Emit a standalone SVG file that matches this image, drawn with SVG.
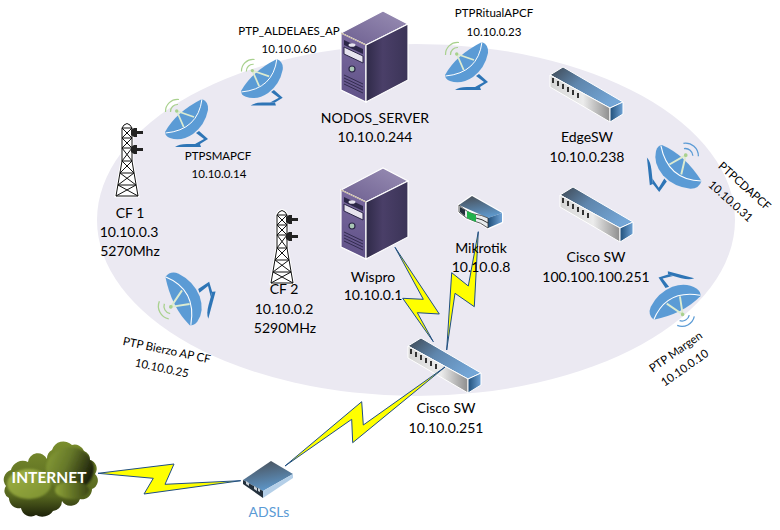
<svg xmlns="http://www.w3.org/2000/svg" xmlns:xlink="http://www.w3.org/1999/xlink" width="780" height="530" viewBox="0 0 780 530">
<style>
text{font-family:Lato,"Liberation Sans",sans-serif;fill:#000;text-anchor:middle}
.l{font-size:14px}
.s{font-size:11.5px}
.bolt{fill:#ffff00;stroke:#1f4e86;stroke-width:1;stroke-linejoin:miter}
</style>
<defs>
<linearGradient id="swTop" x1="0" y1="0" x2="1" y2="0.6"><stop offset="0" stop-color="#3d4650"/><stop offset="0.45" stop-color="#5f86ad"/><stop offset="1" stop-color="#74a6d6"/></linearGradient>
<linearGradient id="swFront" x1="0" y1="0" x2="1" y2="0"><stop offset="0" stop-color="#d5d5d5"/><stop offset="0.55" stop-color="#ececec"/><stop offset="1" stop-color="#8d8d8d"/></linearGradient>
<linearGradient id="swEnd" x1="0" y1="0" x2="1" y2="0"><stop offset="0" stop-color="#1f4e79"/><stop offset="1" stop-color="#6fa3d6"/></linearGradient>
<linearGradient id="srvTop" x1="0" y1="1" x2="1" y2="0"><stop offset="0" stop-color="#6d5f90"/><stop offset="1" stop-color="#9a8fb5"/></linearGradient>
<linearGradient id="srvFront" x1="0" y1="0" x2="0" y2="1"><stop offset="0" stop-color="#7a6a9e"/><stop offset="1" stop-color="#5f5187"/></linearGradient>
<linearGradient id="srvSide" x1="0" y1="0" x2="1" y2="0"><stop offset="0" stop-color="#2f2a48"/><stop offset="0.4" stop-color="#4a3f68"/><stop offset="1" stop-color="#3b3457"/></linearGradient>
<linearGradient id="rtTop" x1="0.3" y1="0" x2="0.6" y2="1"><stop offset="0" stop-color="#4a525c"/><stop offset="1" stop-color="#5f9bd0"/></linearGradient>
<linearGradient id="clBase" x1="0" y1="0" x2="0" y2="1"><stop offset="0" stop-color="#7b8f2e"/><stop offset="0.7" stop-color="#56661f"/><stop offset="1" stop-color="#141706"/></linearGradient>
<linearGradient id="clRight" x1="0" y1="0" x2="1" y2="0.4"><stop offset="0" stop-color="#8ba136"/><stop offset="0.5" stop-color="#66782a"/><stop offset="1" stop-color="#1f240b"/></linearGradient>
<linearGradient id="clLeft" x1="0" y1="0" x2="1" y2="1"><stop offset="0" stop-color="#9eb144"/><stop offset="1" stop-color="#7c9030"/></linearGradient>
<linearGradient id="clLow" x1="0" y1="0" x2="1" y2="0"><stop offset="0" stop-color="#8ea338"/><stop offset="1" stop-color="#3c4716"/></linearGradient>
<filter id="soft" x="-20%" y="-20%" width="140%" height="140%"><feGaussianBlur stdDeviation="1.2"/></filter>
<clipPath id="clClip"><path d="M6 486A10 10 0 0 1 11 470A12 12 0 0 1 28 462A10 10 0 0 1 47 459A10 10 0 0 1 52 450A12 12 0 0 1 72 445A10 10 0 0 1 84 451A10 10 0 0 1 90 460A9 9 0 0 1 95 474A9 9 0 0 1 92 489A10 10 0 0 1 80 499A10 10 0 0 1 62 501A10 10 0 0 1 53 511A13 13 0 0 1 36 515A10 10 0 0 1 21 508A10 10 0 0 1 9 498A8 8 0 0 1 6 486Z"/></clipPath>

<g id="dishBody">
<path d="M31 35L34 33L43 41L35 46L30 46L39 41Z" fill="#2e75b6"/>
<path d="M10 49Q14 46 22 46L35 46L36 49Z" fill="#2e75b6"/>
<path d="M37 1Q44 4 43 12Q40 27 28 36Q16 44 5 40Q0 38 0 34Q11 14 37 1Z" fill="#5b9bd5"/>
<path d="M37 1Q33 32 0.5 35" fill="none" stroke="#fff" stroke-width="1"/>
<path d="M11.7 13L29 19M11.7 13L18.7 29" stroke="#dcebd0" stroke-width="1.8" fill="none"/>
<circle cx="11.7" cy="13" r="1.7" fill="#a9d18e"/>
</g>
<g id="dishGreen"><use xlink:href="#dishBody"/><path d="M5.5 14A7 7 0 0 1 13 6.5M0.5 14A12 12 0 0 1 14 1.5" fill="none" stroke="#a9d18e" stroke-width="1.2"/></g>
<g id="dishBlue"><use xlink:href="#dishBody"/><path d="M5.5 14A7 7 0 0 1 13 6.5M0.5 14A12 12 0 0 1 14 1.5" fill="none" stroke="#5b9bd5" stroke-width="1.2"/></g>

<g id="server">
<path d="M0 22L42 0L67 13L25 34Z" fill="url(#srvTop)" stroke="#fff" stroke-width="1.2"/>
<path d="M0 22L25 34V91L0 79Z" fill="url(#srvFront)" stroke="#fff" stroke-width="1.2"/>
<path d="M25 34L67 13V69L25 91Z" fill="url(#srvSide)" stroke="#fff" stroke-width="1.2"/>
<path d="M0 22L25 34" stroke="#b09a7a" stroke-width="0.8" fill="none"/>
<path d="M3 29L22 38V43L3 34Z" fill="#2c2748"/>
<ellipse cx="11" cy="34" rx="3.5" ry="1.8" fill="#e6e3ee"/>
<path d="M3 36L22 45V52L3 43Z" fill="#e6e3ee" stroke="#2c2748" stroke-width="1"/>
<circle cx="11" cy="58" r="3" fill="#a9c6b5" stroke="#2c2748" stroke-width="1.2"/>
<path d="M3 64L22 73M3 67L22 76M3 70L22 79M3 73L22 82" stroke="#2c2748" stroke-width="0.9" fill="none"/>
</g>

<g id="switch">
<path d="M0 8L13 0L73 35L60 41Z" fill="url(#swTop)" stroke="#fff" stroke-width="1"/>
<path d="M0 8L60 41V55L0 20Z" fill="url(#swFront)" stroke="#fff" stroke-width="1"/>
<path d="M60 41L73 35V47L60 55Z" fill="url(#swEnd)" stroke="#fff" stroke-width="1"/>
<path d="M3 11v5M8 14v5M13 17v5M18 20v5M23 23v5M28 26v5" stroke="#333" stroke-width="2" fill="none"/>
</g>

<g id="tower" fill="none" stroke="#111" stroke-width="1">
<path d="M7 2Q10 -1 13 2L15 5V38L21 73H-1L5 38V5Z" fill="#fff" stroke-width="3" stroke="#fff"/>
<path d="M7 2Q10 -1 13 2L15 5V38L21 73H-1L5 38V5Z"/>
<path d="M5 5H15M5 15H15M5 25H15M5 38H15M3 50H17M1 62H19M5 5L15 15M15 5L5 15M5 15L15 25M15 15L5 25M5 25L15 38M15 25L5 38M5 38L17 50M15 38L3 50M3 50L19 62M17 50L1 62M1 62L21 73M19 62L-1 73"/>
<g fill="#222" stroke="none"><path d="M14 7L17 5H20V8H26V11H20V14H17L14 12Z"/><path d="M14 24L17 22H20V25H26V28H20V31H17L14 29Z"/></g>
</g>
</defs>

<ellipse cx="416" cy="220" rx="319" ry="176" fill="#ebe9f2"/>

<g id="node-cisco-sw-1"><use xlink:href="#switch" x="408" y="338"/><text class="l" x="446" y="413">Cisco SW</text><text class="l" x="446" y="433">10.10.0.251</text></g>

<g id="connectors">
<path class="bolt" d="M395 247.3L439.3 314L417.3 312.7L433.3 341.7L402.7 298.3L423.3 299.3Z"/>
<path class="bolt" d="M478.3 231.7L474.3 306.7L455 293.3L446.7 350L451.7 272.7L468.3 286Z"/>
<path class="bolt" d="M445 367L363.3 425L361.7 401.7L285 466L351.7 419.3L352.7 442.7Z"/>
<path class="bolt" d="M98 473.3L174 464L165 484.3L240.7 480.7L144 494L153.3 478.3Z"/>
</g>

<g id="node-nodos-server"><use xlink:href="#server" x="341" y="11"/><text class="l" x="375" y="123">NODOS_SERVER</text><text class="l" x="375" y="142">10.10.0.244</text></g>
<g id="node-wispro"><use xlink:href="#server" x="341" y="168"/><text class="l" x="373" y="282">Wispro</text><text class="l" x="373" y="300">10.10.0.1</text></g>
<g id="node-mikrotik">
<g transform="translate(458,196)">
<path d="M1 9L14 0L44 17V26L30 32Q22 26 16 25Q8 23 1 16Z" fill="#fff" stroke="#fff" stroke-width="2.5" stroke-linejoin="round"/>
<path d="M1 9L14 0L44 17L30 22Z" fill="url(#rtTop)"/>
<path d="M30 22L44 17V26L30 32Z" fill="url(#swEnd)"/>
<path d="M1 9Q10 17 16 18Q24 19 30 22V32Q22 26 16 25Q8 23 1 16Z" fill="#e8ecee" stroke="#333" stroke-width="0.8"/>
<path d="M2 11L7 14V20L2 16Z" fill="#23303c"/>
<path d="M9 15L18 19V26L9 22Z" fill="#22b14c"/>
<path d="M18 22Q24 23 30 27" fill="none" stroke="#333" stroke-width="1"/>
</g>
<text class="l" x="481" y="253">Mikrotik</text><text class="l" x="481" y="272">10.10.0.8</text></g>
<g id="node-edgesw"><use xlink:href="#switch" x="550" y="67"/><text class="l" x="587" y="142">EdgeSW</text><text class="l" x="587" y="162">10.10.0.238</text></g>
<g id="node-cisco-sw-2"><use xlink:href="#switch" x="560" y="187"/><text class="l" x="596" y="262">Cisco SW</text><text class="l" x="596" y="282">100.100.100.251</text></g>
<g id="node-cf1"><use xlink:href="#tower" x="117" y="123"/><text class="l" x="130" y="218">CF 1</text><text class="l" x="129" y="237">10.10.0.3</text><text class="l" x="130" y="256">5270Mhz</text></g>
<g id="node-cf2"><use xlink:href="#tower" x="272" y="210"/><text class="l" x="284" y="294">CF 2</text><text class="l" x="284" y="314">10.10.0.2</text><text class="l" x="285" y="333">5290MHz</text></g>

<g id="node-ptpsm"><use xlink:href="#dishGreen" x="165" y="98"/><text class="s" x="218" y="160">PTPSMAPCF</text><text class="s" x="219" y="178">10.10.0.14</text></g>
<g id="node-aldelaes"><g transform="translate(241,58) scale(0.97)"><use xlink:href="#dishGreen"/></g><text class="s" x="289" y="35">PTP_ALDELAES_AP</text><text class="s" x="289" y="53">10.10.0.60</text></g>
<g id="node-ritual"><use xlink:href="#dishGreen" x="445" y="41"/><text class="s" x="494" y="17">PTPRitualAPCF</text><text class="s" x="494" y="36">10.10.0.23</text></g>
<g id="node-bierzo"><g transform="translate(177.5,301) rotate(-75) scale(1.09) translate(-18.5,-17.5)"><use xlink:href="#dishGreen"/></g><text class="s" transform="translate(166,354) rotate(12)">PTP Bierzo AP CF</text><text class="s" transform="translate(161,372) rotate(12)">10.10.0.25</text></g>
<g id="node-cdapcf"><g transform="translate(681.7,163) rotate(84) scale(1.08) translate(-18.5,-17.5)"><use xlink:href="#dishBlue"/></g><text class="s" transform="translate(742,189) rotate(42)">PTPCDAPCF</text><text class="s" transform="translate(728,204) rotate(42)">10.10.0.31</text></g>
<g id="node-margen"><g transform="translate(677,308) rotate(-165) scale(1.05) translate(-18.5,-17.5)"><use xlink:href="#dishBlue"/></g><text class="s" transform="translate(678,355) rotate(-35)">PTP Margen</text><text class="s" transform="translate(687,371) rotate(-35)">10.10.0.10</text></g>

<g id="node-internet">
<g clip-path="url(#clClip)">
<rect x="0" y="440" width="100" height="80" fill="url(#clBase)"/>
<g filter="url(#soft)">
<ellipse cx="29" cy="484" rx="22" ry="15" fill="url(#clLeft)"/>
<ellipse cx="70" cy="469" rx="24" ry="22" fill="url(#clRight)"/>
<ellipse cx="72" cy="490" rx="17" ry="9" fill="url(#clLow)"/>
</g>
</g>
<text x="49" y="483" style="font-size:15.5px;font-weight:700;fill:#fff">INTERNET</text>
</g>
<g id="node-adsl">
<path d="M243 480L271 461L293 474L263 491Z" fill="url(#rtTop)"/>
<path d="M243 480L263 491V498L243 484Z" fill="#23303c"/>
<path d="M263 491L293 474V478L263 498Z" fill="#b4cfe8"/>
<path d="M246 481l3 2v3l-3 -2zM254 486l3 2v3l-3 -2zM258 488l2 1v3l-2 -1z" fill="#c8d0d8"/>
<text x="269" y="517" style="font-size:14px;fill:#5b9bd5">ADSLs</text>
</g>
</svg>
